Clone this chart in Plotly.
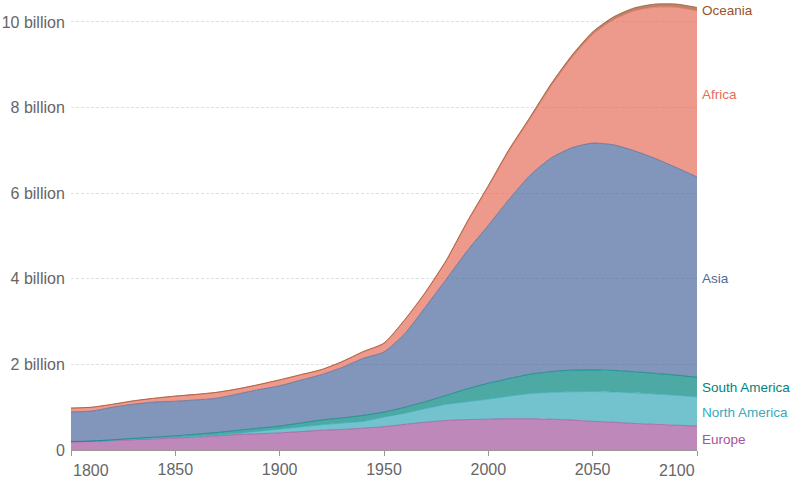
import plotly.graph_objects as go

years = list(range(1800, 2101, 10))

europe = [.185, .20, .22, .24, .26, .28, .30, .33, .36, .38, .40, .43, .46, .48, .51, .545,
          .60, .65, .69, .71, .72, .73, .73, .72, .70, .67, .65, .62, .60, .58, .56]
north_america = [.01, .005, .01, .02, .025, .02, .02, .02, .03, .06, .09, .11, .13, .15, .16, .225,
                 .26, .32, .38, .42, .47, .53, .59, .63, .66, .695, .705, .715, .71, .70, .685]
south_america = [.005, .005, .01, .01, .015, .03, .05, .06, .07, .07, .07, .09, .11, .12, .14, .115,
                 .14, .16, .21, .30, .37, .41, .45, .48, .505, .505, .505, .495, .48, .47, .455]
asia = [.69, .70, .76, .80, .82, .81, .80, .80, .85, .90, .94, 1.00, 1.06, 1.18, 1.33, 1.405,
        1.72, 2.22, 2.72, 3.23, 3.69, 4.19, 4.65, 4.99, 5.195, 5.30, 5.27, 5.16, 5.02, 4.85, 4.68]
africa = [.088, .088, .068, .078, .088, .117, .127, .136, .116, .115, .134, .123, .112, .13, .149, .197,
          .314, .33, .427, .663, .899, 1.133, 1.317, 1.681, 2.105, 2.54, 2.925, 3.272, 3.538, 3.746, 3.884]
oceania = [.002, .002, .002, .002, .002, .003, .003, .004, .004, .005, .006, .007, .008, .010, .011, .013,
           .016, .020, .023, .027, .031, .037, .043, .049, .055, .060, .065, .068, .072, .074, .076]

names = ['Europe', 'North America', 'South America', 'Asia', 'Africa', 'Oceania']
series = [europe, north_america, south_america, asia, africa, oceania]
colors = ['162,85,156', '56,170,186', '0,132,126', '76,106,156', '229,110,90', '154,81,41']

x_ticks = [1800, 1850, 1900, 1950, 2000, 2050, 2100]
x_labels = ['', '1850', '1900', '1950', '2000', '2050', '']
y_ticks = [0, 2, 4, 6, 8, 10]
y_labels = ['0', '2 billion', '4 billion', '6 billion', '8 billion', '10 billion']

fig = go.Figure()
base = 0
for name, values, color in zip(names, series, colors):
    fig.add_trace(go.Scatter(
        x=years,
        y=values,
        name=name,
        mode='lines',
        stackgroup='one',
        line=dict(color=f'rgba({color},0.7)', width=1, shape='spline', smoothing=0.6),
        fillcolor=f'rgba({color},0.7)',
    ))
    # label sits at the middle of the band at the last year
    fig.add_annotation(
        x=2100, y=base + values[-1] / 2, text=name, showarrow=False,
        xref='x', yref='y', xanchor='left', xshift=3, yshift=-1,
        font=dict(color=f'rgb({color})', size=13.5),
    )
    base += values[-1]

# end labels are pushed inside the plot edges
fig.add_annotation(x=1800, y=0, yref='y', xref='x', text='1800', showarrow=False,
                   xanchor='left', yanchor='top', yshift=-10, font=dict(size=16, color='#666666'))
fig.add_annotation(x=2100, y=0, yref='y', xref='x', text='2100', showarrow=False,
                   xanchor='right', yanchor='top', yshift=-10, font=dict(size=16, color='#666666'))

fig.update_layout(
    width=800,
    height=481,
    margin=dict(l=70.5, r=103, t=1, b=31),
    paper_bgcolor='white',
    plot_bgcolor='white',
    showlegend=False,
    font=dict(family='Liberation Sans, Arial, sans-serif', size=16, color='#666666'),
    xaxis=dict(
        range=[1800, 2100],
        tickvals=x_ticks,
        ticktext=x_labels,
        ticks='outside',
        ticklen=5,
        tickcolor='#999999',
        showgrid=False,
        zeroline=False,
        showline=True,
        linecolor='#999999',
        automargin=False,
    ),
    yaxis=dict(
        range=[0, 10.49],
        tickvals=y_ticks,
        ticktext=y_labels,
        ticks='outside',
        ticklen=2,
        tickcolor='rgba(0,0,0,0)',
        showgrid=True,
        gridcolor='#e0e0e0',
        griddash='3px,2px',
        gridwidth=1,
        zeroline=False,
        automargin=False,
    ),
)

# browser default body margin would shift the whole chart by 8px
fig.write_html("out.html", config={'displayModeBar': False},
               post_script="document.body.style.margin='0';document.body.style.overflow='hidden';")
